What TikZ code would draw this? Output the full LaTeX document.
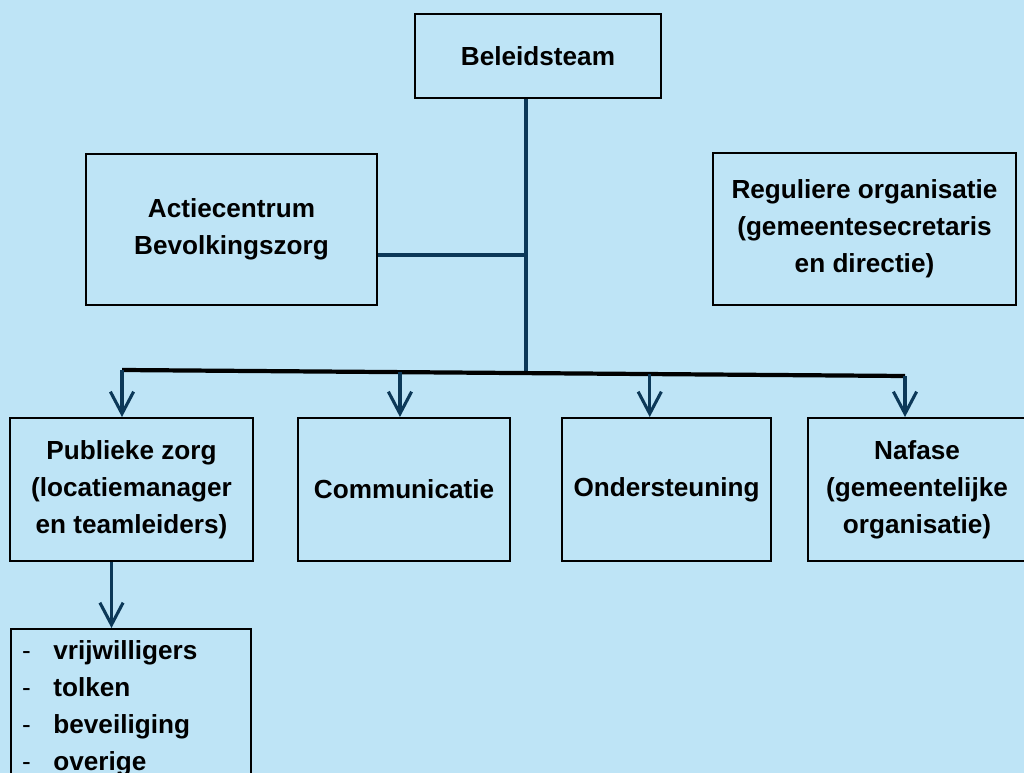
\documentclass[tikz,border=0pt]{standalone}
\usepackage{fontspec}
\setmainfont{Liberation Sans}
\usepackage{tikz}
\usetikzlibrary{arrows.meta, positioning, calc}

\definecolor{achtergrond}{RGB}{190,228,246}
\definecolor{donkerblauw}{RGB}{12,56,88}

\begin{document}
\begin{tikzpicture}[x=0.025cm, y=-0.025cm,
    box/.style={draw=black, line width=1.4pt, rectangle, align=center, inner sep=2pt,
        font=\bfseries\fontsize{18.6}{26.3}\selectfont},
    lijn/.style={donkerblauw, line width=3pt},
    balk/.style={black, line width=3pt},
    pijl/.style={donkerblauw, line width=2.2pt, -{Straight Barb[length=5.5mm, width=5.8mm]}}]
    \fill[achtergrond] (0, 0) rectangle (1024, 773);
    \useasboundingbox (0, 0) rectangle (1024, 773);

    \node[box, minimum width=6.15cm, minimum height=2.1cm] (beleid) at (538, 56) {Beleidsteam};
    \node[box, minimum width=7.275cm, minimum height=3.775cm] (actie) at (231.5, 229.5) {Actiecentrum\\Bevolkingszorg};
    \node[box, minimum width=7.575cm, minimum height=3.8cm] (regulier) at (864.5, 229) {Reguliere organisatie\\(gemeentesecretaris\\en directie)};

    \node[box, minimum width=6.075cm, minimum height=3.575cm] (publiek) at (131.5, 489.5) {Publieke zorg\\(locatiemanager\\en teamleiders)};
    \node[box, minimum width=5.3cm, minimum height=3.575cm] (commun) at (404, 489.5) {Communicatie};
    \node[box, minimum width=5.225cm, minimum height=3.575cm] (onderst) at (666.5, 489.5) {Ondersteuning};
    \node[box, minimum width=5.45cm, minimum height=3.575cm] (nafase) at (917, 489.5) {Nafase\\(gemeentelijke\\organisatie)};

    \node[box, anchor=north west, align=left, inner xsep=0.28cm, text width=5.44cm, minimum height=3.95cm] (lijst) at (10, 628)
        {\makebox[0.78cm][l]{\mdseries -}vrijwilligers\\
         \makebox[0.78cm][l]{\mdseries -}tolken\\
         \makebox[0.78cm][l]{\mdseries -}beveiliging\\
         \makebox[0.78cm][l]{\mdseries -}overige};

    \coordinate (balkL) at (122, 370);
    \coordinate (balkR) at (905, 376);
    \coordinate (stamvoet) at ($(balkL)!0.516!(balkR)$);
    \coordinate (stam) at (526, 255);

    \draw[lijn] (beleid.south -| stamvoet) -- (stamvoet);
    \draw[lijn] (actie.east |- stam) -- (stam);
    \draw[balk] (balkL) -- (balkR);

    \coordinate (p1) at ($(balkL)!0!(balkR)$);
    \coordinate (p2) at ($(balkL)!0.355!(balkR)$);
    \coordinate (p3) at ($(balkL)!0.674!(balkR)$);
    \coordinate (p4) at ($(balkL)!1!(balkR)$);
    \draw[pijl] (p1) -- (p1 |- publiek.north);
    \draw[pijl] (p2) -- (p2 |- commun.north);
    \draw[pijl] (p3) -- (p3 |- onderst.north);
    \draw[pijl] (p4) -- (p4 |- nafase.north);

    \draw[pijl] ([xshift=-5mm]publiek.south) -- ([xshift=-5mm]publiek.south |- lijst.north);
\end{tikzpicture}
\end{document}
